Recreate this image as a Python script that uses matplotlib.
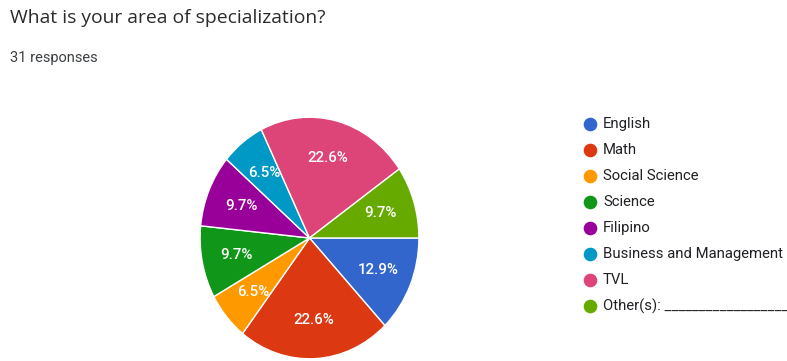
import matplotlib
matplotlib.use("Agg")
import matplotlib.pyplot as plt
from matplotlib.lines import Line2D

plt.rcParams['font.family'] = ['Roboto', 'DejaVu Sans']

title = "What is your area of specialization?"
subtitle = "31 responses"
categories = ["English", "Math", "Social Science", "Science", "Filipino",
              "Business and Management", "TVL", "Other(s): __________________"]
counts = [4, 7, 2, 3, 3, 2, 7, 3]
colors = ["#3366cc", "#dc3912", "#ff9900", "#109618", "#990099",
          "#0099c6", "#dd4477", "#66aa00"]

W, H = 787, 361
fig = plt.figure(figsize=(W / 100, H / 100), dpi=100)
fig.patch.set_facecolor("white")

fig.text(10 / W, 1 - 18 / H, title, fontsize=13.9, color="#2b2b2b",
         va="center", ha="left", family=["Open Sans", "DejaVu Sans"])
fig.text(10 / W, 1 - 58 / H, subtitle, fontsize=10.5, color="#3c4043",
         va="center", ha="left")

# pie area (slightly taller than wide)
px0, px1, py0, py1 = 199, 420, 116, 360
ax = fig.add_axes([px0 / W, 1 - py1 / H, (px1 - px0) / W, (py1 - py0) / H])
wedges, texts, autotexts = ax.pie(
    counts, colors=colors, startangle=0, counterclock=False,
    autopct="%.1f%%", pctdistance=0.68,
    wedgeprops=dict(edgecolor="white", linewidth=1.0),
    textprops=dict(color="white", fontsize=10.8, fontweight="medium"))
ax.set_xlim(-1.01, 1.01)
ax.set_ylim(-1.01, 1.01)
ax.set_aspect("auto")
ax.axis("off")

# legend column
y0, dy = 124, 26
for i, (name, col) in enumerate(zip(categories, colors)):
    y = 1 - (y0 + i * dy) / H
    fig.add_artist(Line2D([590 / W], [y], marker="o", markersize=8.8,
                          markerfacecolor=col, markeredgecolor=col,
                          transform=fig.transFigure))
    fig.text(603 / W, y, name, fontsize=10.7, color="#202124",
             va="center", ha="left")

fig.savefig("out.png", dpi=100)
